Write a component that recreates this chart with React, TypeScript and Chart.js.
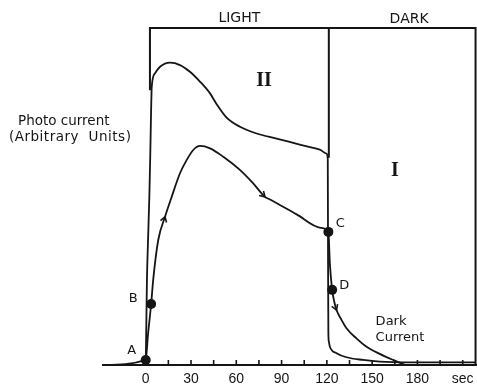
import { useEffect, useRef } from 'react';
import { Chart, registerables } from 'chart.js';

Chart.register(...registerables);

// Time axis (seconds) and photo-current traces (arbitrary units, 0–100)
const curveIITime = [0, 0.4, 0.8, 1.6, 2.4, 3.0, 3.5, 4, 6.2, 9.5, 16.1, 22.7, 29.3, 35.9, 42.6, 47, 53.6, 62.4, 73.5, 86.7, 102, 115.3, 119.8, 120.6, 120.8, 121.0, 121.3, 122, 126.4, 133, 144, 155, 177, 218.5];
const curveIIValue = [0, 12, 25, 38, 50, 62, 74, 82.6, 86.6, 88.5, 89.7, 89, 87, 84.1, 80.6, 77.4, 73.4, 70.7, 68.7, 67.2, 65.4, 63.9, 62.7, 61.2, 30, 9.5, 7, 5.4, 3.5, 2.3, 1.5, 1.0, 0.8, 0.8];

const curveITime = [-28, 0, 1.5, 3.6, 5, 8.3, 12.8, 17.2, 22.7, 27.1, 31.5, 35.9, 42.6, 51.4, 62.4, 71.2, 79, 82, 100, 116, 121, 122, 123.5, 124.8, 126.4, 129.7, 133, 139.6, 146.3, 155, 163.9, 172];
const curveIValue = [0, 1.5, 9, 18.1, 25.5, 37.1, 44, 49.9, 56.9, 60.8, 63.8, 65, 64.3, 61.8, 57.9, 53.9, 49.9, 49.2, 44.7, 40.7, 39.5, 30, 22.3, 19, 16.3, 13.4, 10.9, 7.9, 5.4, 3.3, 1.5, 0];

// Labelled states on trace I
const markerLabels = ['A', 'B', 'C', 'D'];
const markerTime = [0, 3.6, 121, 123.5];
const markerValue = [1.5, 18.1, 39.5, 22.3];

// Direction arrows sit on these points of trace I
const arrowTimes = [12.8, 79, 126.4];

// Light / dark period bracket
const lightOn = 2.8;
const lightOff = 121.3;
const recordEnd = 218.5;

const tickValues = [0, 15, 30, 45, 60, 75, 90, 105, 120, 135, 150, 165, 180, 195, 210];
const tickLabels: Record<number, string> = { 0: '0', 30: '30', 60: '60', 90: '90', 120: '120', 150: '150', 180: '180', 210: 'sec' };

const INK = '#151515';
const SANS = '"DejaVu Sans", sans-serif';
const SERIF = '"Liberation Serif", "DejaVu Serif", serif';

const zip = (xs: number[], ys: number[]) => xs.map((x, i) => ({ x, y: ys[i] }));

const annotate = {
  id: 'annotate',
  beforeDraw(chart: any) {
    const { ctx, width, height } = chart;
    ctx.save();
    ctx.fillStyle = '#ffffff';
    ctx.fillRect(0, 0, width, height);
    ctx.restore();
  },
  afterDraw(chart: any) {
    const { ctx, chartArea, scales } = chart;
    const xs = scales.x;
    const ys = scales.y;
    ctx.save();
    ctx.strokeStyle = INK;
    ctx.fillStyle = INK;

    // inward tick marks on the time axis
    ctx.lineWidth = 1.6;
    tickValues.forEach((v) => {
      const px = xs.getPixelForValue(v);
      ctx.beginPath();
      ctx.moveTo(px, chartArea.bottom);
      ctx.lineTo(px, chartArea.bottom - 5);
      ctx.stroke();
    });

    // arrowheads along trace I
    ctx.lineWidth = 1.6;
    arrowTimes.forEach((t) => {
      const i = curveITime.indexOf(t);
      if (i < 1) return;
      const px = xs.getPixelForValue(curveITime[i]);
      const py = ys.getPixelForValue(curveIValue[i]);
      const ax = xs.getPixelForValue(curveITime[i - 1]);
      const ay = ys.getPixelForValue(curveIValue[i - 1]);
      const bx = xs.getPixelForValue(curveITime[i + 1]);
      const by = ys.getPixelForValue(curveIValue[i + 1]);
      const ang = Math.atan2(by - ay, bx - ax);
      const len = 6;
      ctx.beginPath();
      ctx.moveTo(px - len * Math.cos(ang - 0.55), py - len * Math.sin(ang - 0.55));
      ctx.lineTo(px, py);
      ctx.lineTo(px - len * Math.cos(ang + 0.55), py - len * Math.sin(ang + 0.55));
      ctx.stroke();
    });

    // state letters next to the dots
    const offsets: Record<string, [number, number]> = { A: [-14, -9], B: [-18, -5], C: [12, -8], D: [12, -4] };
    ctx.font = `13px ${SANS}`;
    ctx.textAlign = 'center';
    ctx.textBaseline = 'middle';
    markerLabels.forEach((lab, i) => {
      const px = xs.getPixelForValue(markerTime[i]);
      const py = ys.getPixelForValue(markerValue[i]);
      const [dx, dy] = offsets[lab];
      ctx.fillText(lab, px + dx, py + dy);
    });

    // period headers
    ctx.font = `14px ${SANS}`;
    ctx.fillText('LIGHT', xs.getPixelForValue(62), chartArea.top - 10);
    ctx.fillText('DARK', xs.getPixelForValue(174.5), chartArea.top - 9);

    // trace numerals
    ctx.font = `bold 20px ${SERIF}`;
    ctx.fillText('II', xs.getPixelForValue(78.3), ys.getPixelForValue(84.7) + 1);
    ctx.fillText('I', xs.getPixelForValue(165), ys.getPixelForValue(57.9) + 1);

    // dark current note
    ctx.font = `13px ${SANS}`;
    ctx.textAlign = 'left';
    const dcx = xs.getPixelForValue(152.3);
    ctx.fillText('Dark', dcx, ys.getPixelForValue(13));
    ctx.fillText('Current', dcx, ys.getPixelForValue(13) + 16);

    // quantity label on the left
    ctx.font = `13.5px ${SANS}`;
    ctx.fillText('Photo current', 18, chartArea.top + 93);
    ctx.letterSpacing = '0.5px';
    ctx.fillText('(Arbitrary  Units)', 9, chartArea.top + 109);

    ctx.restore();
  },
};

export default function App() {
  const canvasRef = useRef<HTMLCanvasElement | null>(null);

  useEffect(() => {
    const canvas = canvasRef.current;
    if (!canvas) return;
    const line = {
      showLine: true,
      pointRadius: 0,
      borderColor: INK,
      fill: false,
      clip: 6,
      cubicInterpolationMode: 'monotone',
    };
    const chart = new Chart(canvas, {
      type: 'scatter',
      data: {
        datasets: [
          { ...line, data: zip(curveIITime, curveIIValue), borderWidth: 1.8 },
          { ...line, data: zip(curveITime, curveIValue), borderWidth: 1.8 },
          {
            ...line,
            cubicInterpolationMode: 'default',
            tension: 0,
            data: [
              { x: lightOn, y: 81.5 },
              { x: lightOn, y: 100 },
              { x: recordEnd, y: 100 },
              { x: recordEnd, y: 0 },
            ],
            borderWidth: 2,
          },
          {
            ...line,
            cubicInterpolationMode: 'default',
            tension: 0,
            data: [
              { x: lightOff, y: 100 },
              { x: lightOff, y: 61.5 },
            ],
            borderWidth: 2,
          },
          {
            data: zip(markerTime, markerValue),
            showLine: false,
            pointRadius: 5,
            pointBackgroundColor: INK,
            pointBorderColor: INK,
            pointBorderWidth: 0,
            clip: 6,
          },
        ],
      } as any,
      options: {
        responsive: false,
        animation: false,
        events: [],
        layout: { autoPadding: false, padding: { left: 103, right: 1, top: 28, bottom: 0 } },
        plugins: { legend: { display: false }, tooltip: { enabled: false } },
        scales: {
          x: {
            type: 'linear',
            min: -28.3,
            max: 218.8,
            afterBuildTicks: (s: any) => {
              s.ticks = tickValues.map((v) => ({ value: v }));
            },
            afterFit: (s: any) => {
              s.height = 22;
              s.paddingLeft = 0;
              s.paddingRight = 0;
            },
            ticks: {
              callback: (v: any) => tickLabels[Number(v)] ?? '',
              font: { family: '"Liberation Sans", sans-serif', size: 14 },
              color: INK,
              padding: 6,
              maxRotation: 0,
              autoSkip: false,
            },
            grid: { display: false, drawTicks: false },
            border: { display: true, color: INK, width: 2 },
          },
          y: { display: false, min: 0, max: 100 },
        },
      } as any,
      plugins: [annotate],
    });
    return () => chart.destroy();
  }, []);

  return (
    <div style={{ position: 'fixed', left: 0, top: 0, width: 477, height: 387, background: '#fff' }}>
      <canvas ref={canvasRef} width={477} height={387} style={{ display: 'block' }} />
    </div>
  );
}
